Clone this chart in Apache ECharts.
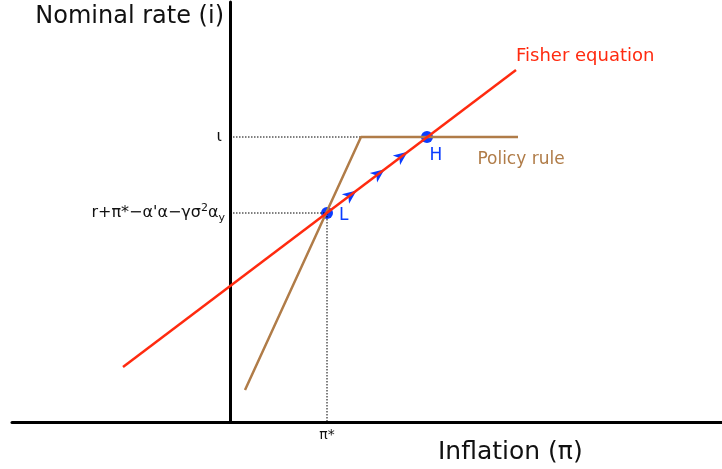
<!DOCTYPE html>
<html><head><meta charset="utf-8">
<script src="https://cdn.jsdelivr.net/npm/echarts@6/dist/echarts.min.js"></script>
<style>html,body{margin:0;padding:0;background:#fff}#c{width:722px;height:469px}</style>
</head><body><div id="c"></div>
<script>
// Schematic coordinates (inflation on x, nominal rate on y)
const fisherLine = [[-107, 55], [286, 352]];
const policyRule = [[15, 32], [131, 285], [288, 285]];
const pointL = [97, 209];
const pointH = [197, 285];
const arrowPoints = [[121, 227.2], [149, 248.4], [172, 265.9]];
const iotaLevel = 285;
const piStar = 97;
const yTickValues = [209, 285];
const yTickLabels = ["{a|r+π*−α'α−γσ}{sup|2}{a|α}{sub|y}", "{a|ι}"];
const xTickValues = [97];
const xTickLabels = ["π*"];

const FONT = "DejaVu Sans";
const RED = "#ff2a0f", BROWN = "#b07c48", BLUE = "#0a3cff";

const chart = echarts.init(document.getElementById('c'));
const slopeDeg = Math.atan2(0.76, 1) * 180 / Math.PI;

const tickRich = {
  a: {fontFamily: FONT, fontSize: 16, color: '#111'},
  sup: {fontFamily: FONT, fontSize: 11, color: '#111', padding: [0, 0, 10, 0]},
  sub: {fontFamily: FONT, fontSize: 11, color: '#111', padding: [11, 0, 0, 0]}
};
const dotted = {color: '#000', width: 1, type: [1.5, 1.5]};

chart.setOption({
  animation: false,
  grid: {left: 12, right: 0, top: 2, bottom: 47, outerBoundsMode: 'none', containLabel: false},
  xAxis: {
    type: 'value', min: -218, max: 492,
    splitLine: {show: false},
    axisLine: {show: true, onZero: true, lineStyle: {color: '#000', width: 3}},
    axisTick: {show: false},
    axisLabel: {
      customValues: xTickValues, margin: 6,
      fontFamily: FONT, fontSize: 14, color: '#111',
      formatter: v => xTickLabels[xTickValues.indexOf(v)]
    }
  },
  yAxis: {
    type: 'value', min: 0, max: 420,
    splitLine: {show: false},
    axisLine: {show: true, onZero: true, lineStyle: {color: '#000', width: 3}},
    axisTick: {show: false},
    axisLabel: {show: false}
  },
  graphic: [
    {type: 'text', right: 722 - 224, top: 5, style: {text: 'Nominal rate (i)', font: '24px "DejaVu Sans"', fill: '#111'}},
    {type: 'text', left: 438, top: 440, style: {text: 'Inflation (π)', font: '25px "DejaVu Sans"', fill: '#111'}}
  ],
  series: [
    {type: 'line', data: [[0, iotaLevel], [policyRule[1][0], iotaLevel]], symbol: 'none', silent: true,
     lineStyle: dotted,
     markPoint: {symbol: 'circle', symbolSize: 0, data: [{coord: [0, yTickValues[1]], label: {show: true, position: 'left', distance: 8, formatter: yTickLabels[1], rich: tickRich}}]}},
    {type: 'line', data: [[0, pointL[1]], pointL], symbol: 'none', silent: true,
     lineStyle: dotted,
     markPoint: {symbol: 'circle', symbolSize: 0, data: [{coord: [0, yTickValues[0]], label: {show: true, position: 'left', distance: 5, formatter: yTickLabels[0], rich: tickRich}}]}},
    {type: 'line', data: [pointL, [piStar, 0]], symbol: 'none', silent: true,
     lineStyle: dotted},
    {type: 'line', data: policyRule, symbol: 'none', lineStyle: {color: BROWN, width: 2.5},
     markPoint: {symbol: 'circle', symbolSize: 0, data: [{coord: [291, 285], label: {show: true, formatter: 'Policy rule', position: 'bottom', distance: 14, color: BROWN, fontFamily: FONT, fontSize: 17}}]}},
    {type: 'line', data: fisherLine, symbol: 'none', lineStyle: {color: RED, width: 2.5},
     markPoint: {symbol: 'circle', symbolSize: 0, data: [{coord: fisherLine[1], label: {show: true, formatter: 'Fisher equation', position: 'right', offset: [-5, -14], color: RED, fontFamily: FONT, fontSize: 18}}]}},
    {type: 'scatter', data: arrowPoints, symbol: 'path://M0,0L13,6L0,12L3.5,6Z', symbolSize: [14, 13], symbolKeepAspect: true,
     symbolRotate: slopeDeg,
     itemStyle: {color: BLUE, opacity: 1}},
    {type: 'scatter', data: [pointL], symbolSize: 12, itemStyle: {color: BLUE, opacity: 1},
     label: {show: true, formatter: 'L', position: 'right', offset: [1, 3], color: BLUE, fontFamily: FONT, fontSize: 17}},
    {type: 'scatter', data: [pointH], symbolSize: 12, itemStyle: {color: BLUE, opacity: 1},
     label: {show: true, formatter: 'H', position: 'bottom', offset: [9, -1], color: BLUE, fontFamily: FONT, fontSize: 17}}
  ]
});
</script></body></html>
